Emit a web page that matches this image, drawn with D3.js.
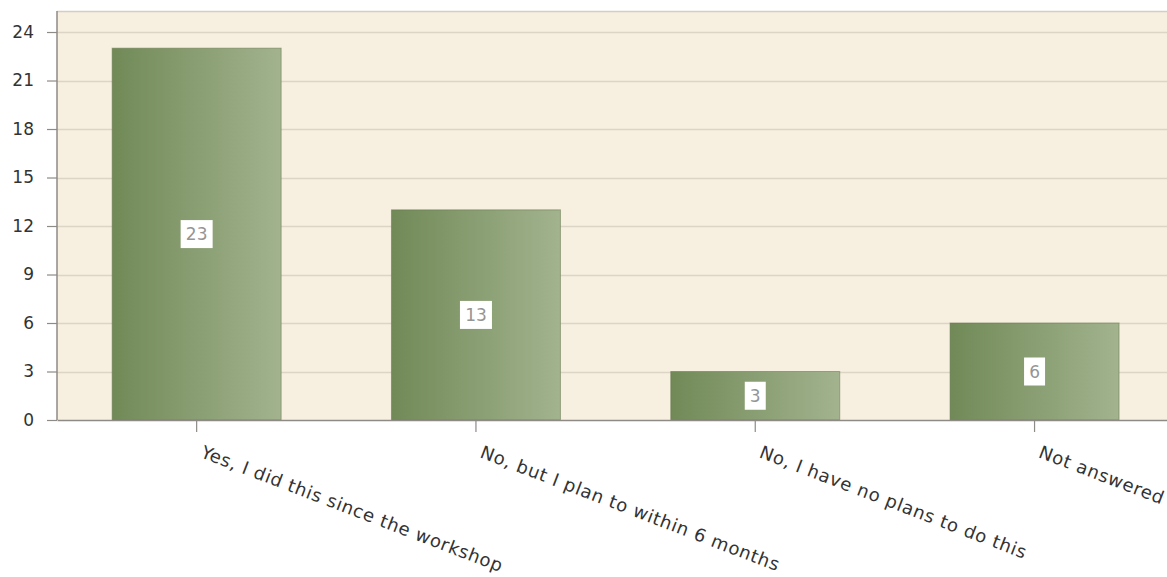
<!DOCTYPE html>
<html><head><meta charset="utf-8">
<script src="https://cdn.jsdelivr.net/npm/d3@7"></script>
<style>body{margin:0;background:#fff;}svg{display:block;}</style>
</head><body>
<svg id="chart" width="1167" height="577"></svg>
<script>
const categories = ["Yes, I did this since the workshop", "No, but I plan to within 6 months", "No, I have no plans to do this", "Not answered"];
const values = [23, 13, 3, 6];
const yTicks = [0, 3, 6, 9, 12, 15, 18, 21, 24];

const svg = d3.select("#chart");
const mLeft = 57, mTop = 11, mBottom = 420, mRight = 1174.2;
const x = d3.scaleBand().domain(categories).range([mLeft, mRight]).paddingInner(0.395).paddingOuter(0.1975);
const y = d3.scaleLinear().domain([0, 25.3]).range([mBottom, mTop]);
const FONT = "DejaVu Sans, Verdana, sans-serif";

const defs = svg.append("defs");
const g = defs.append("linearGradient").attr("id", "barGrad").attr("x1", "0%").attr("x2", "100%");
g.append("stop").attr("offset", "0%").attr("stop-color", "#718957");
g.append("stop").attr("offset", "100%").attr("stop-color", "#a2b38e");

svg.append("rect").attr("x", mLeft).attr("y", mTop).attr("width", 1167 - mLeft).attr("height", mBottom - mTop).attr("fill", "#f7efe0");
svg.append("line").attr("x1", mLeft).attr("x2", 1167).attr("y1", mTop + 0.5).attr("y2", mTop + 0.5).attr("stroke", "#d3cdc2").attr("stroke-width", 1.5);

// grid
svg.append("g").selectAll("line").data(yTicks.filter(d => d > 0)).join("line")
  .attr("x1", mLeft).attr("x2", 1167).attr("y1", d => Math.round(y(d)) + 0.5).attr("y2", d => Math.round(y(d)) + 0.5)
  .attr("stroke", "#dcd4c4").attr("stroke-width", 1.3);

// bars
svg.append("g").selectAll("rect").data(values).join("rect")
  .attr("x", (d, i) => x(categories[i])).attr("width", x.bandwidth())
  .attr("y", d => y(d)).attr("height", d => mBottom - y(d))
  .attr("fill", "url(#barGrad)").attr("stroke", "#66784f").attr("stroke-width", 1).attr("stroke-opacity", 0.55);

// value labels
const lbl = svg.append("g").selectAll("g").data(values).join("g")
  .attr("transform", (d, i) => `translate(${x(categories[i]) + x.bandwidth() / 2},${(y(d) + mBottom) / 2})`);
lbl.append("rect").attr("x", d => -(String(d).length * 11 + 10) / 2).attr("y", -14).attr("width", d => String(d).length * 11 + 10).attr("height", 28).attr("fill", "#fff");
lbl.append("text").text(d => d).attr("text-anchor", "middle").attr("dy", "0.36em")
  .attr("font-family", FONT).attr("font-size", 17).attr("fill", "#959595");

// y axis
const yAxis = d3.axisLeft(y).tickValues(yTicks).tickSize(10).tickPadding(13);
const ya = svg.append("g").attr("transform", `translate(${mLeft},0)`).call(yAxis);
ya.select(".domain").attr("stroke", "#8e8a86").attr("stroke-width", 1.5).attr("d", `M0,${mTop}V${mBottom}`);
ya.selectAll(".tick line").attr("stroke", "#8e8a86").attr("stroke-width", 1.2);
ya.selectAll(".tick text").attr("font-family", FONT).attr("font-size", 17).attr("fill", "#333");

// x axis
const xAxis = d3.axisBottom(x).tickSize(12).tickSizeOuter(0).tickPadding(0);
const xa = svg.append("g").attr("transform", `translate(0,${mBottom})`).call(xAxis);
xa.select(".domain").attr("stroke", "#8e8a86").attr("stroke-width", 1.5);
xa.selectAll(".tick line").attr("stroke", "#8e8a86").attr("stroke-width", 1.2);
xa.selectAll(".tick text").attr("font-family", FONT).attr("font-size", 18).attr("letter-spacing", 0.7).attr("fill", "#333")
  .attr("text-anchor", "start").attr("dy", 0).attr("y", 0)
  .attr("transform", "translate(3,37) rotate(21)");
</script>
</body></html>
